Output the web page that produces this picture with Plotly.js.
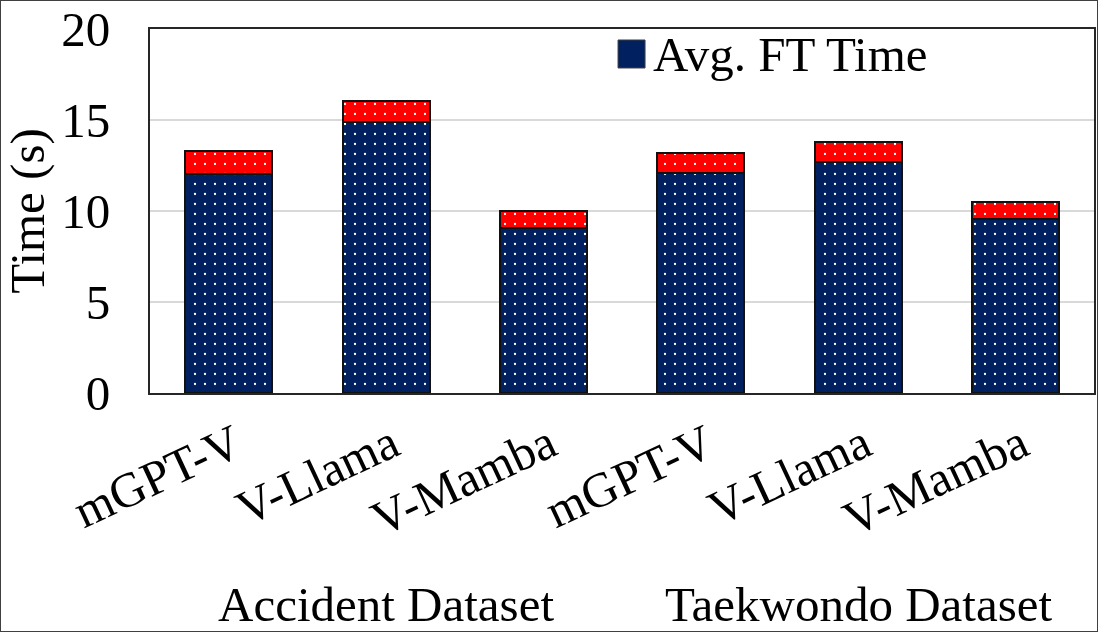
<!DOCTYPE html>
<html>
<head>
<meta charset="utf-8">
<script src="https://cdn.plot.ly/plotly-3.0.1.min.js"></script>
<style>
  html, body { margin: 0; padding: 0; background: #ffffff; }
  #chart { width: 1098px; height: 632px; }
  #frame { position: absolute; left: 0; top: 0; width: 1098px; height: 632px; box-sizing: border-box; border: 1px solid #404040; pointer-events: none; }
</style>
</head>
<body>
<div id="chart"></div>
<div id="frame"></div>
<script>
// ---- data ----
const models = ["mGPT-V", "V-Llama", "V-Mamba", "mGPT-V", "V-Llama", "V-Mamba"];
const positions = [0, 1, 2, 3, 4, 5];
const ftTime = [12.05, 14.9, 9.07, 12.07, 12.7, 9.55];      // Avg. FT Time (blue)
const extraTime = [1.26, 1.15, 0.93, 1.13, 1.07, 0.92];     // red top segment
const datasets = ["Accident Dataset", "Taekwondo Dataset"];
const datasetCenters = [1, 4];
const yTicks = [0, 5, 10, 15, 20];
const legendName = "Avg. FT Time";

const NAVY = "#002060";
const RED = "#ff0000";
const FONT = "'Liberation Serif'";
const FS = 49;

const traces = [
  {
    type: "bar", x: positions, y: ftTime, name: legendName, showlegend: false,
    marker: { color: NAVY, line: { color: "#111111", width: 2 },
      pattern: { shape: ".", fgcolor: "#ffffff", bgcolor: NAVY, size: 10, solidity: 0.04, fillmode: "replace" } },
    hoverinfo: "y"
  },
  {
    type: "bar", x: positions, y: extraTime, name: "", showlegend: false,
    marker: { color: RED, line: { color: "#111111", width: 2 },
      pattern: { shape: ".", fgcolor: "#ffffff", bgcolor: RED, size: 10, solidity: 0.04, fillmode: "replace" } },
    hoverinfo: "y"
  }
];

const annotations = datasets.map((d, i) => ({
  text: d, x: datasetCenters[i], xref: "x", y: -0.582, yref: "paper",
  xanchor: "center", yanchor: "middle", showarrow: false,
  font: { family: FONT, size: FS, color: "#000000" }
}));
annotations.push({
  text: legendName, x: 0.531, xref: "paper", y: 0.9286, yref: "paper",
  xanchor: "left", yanchor: "middle", showarrow: false,
  font: { family: FONT, size: FS, color: "#000000" }
});

const layout = {
  width: 1098, height: 632,
  margin: { l: 150, r: 4, t: 29, b: 239, pad: 0 },
  paper_bgcolor: "#ffffff", plot_bgcolor: "#ffffff",
  barmode: "stack", bargap: 0.447,
  showlegend: false,
  font: { family: FONT, size: FS, color: "#000000" },
  xaxis: {
    range: [-0.5, 5.5], tickvals: positions, ticktext: models,
    tickangle: -25, ticks: "", showgrid: false, zeroline: false,
    showline: true, linecolor: "#262626", linewidth: 2, mirror: true,
    ticklabelstandoff: 2, ticklabelshift: 6,
    tickfont: { family: FONT, size: FS, color: "#000000" }
  },
  yaxis: {
    range: [0, 20], tickvals: yTicks, ticks: "", zeroline: false,
    showgrid: true, gridcolor: "#d9d9d9", gridwidth: 1.5,
    showline: true, linecolor: "#262626", linewidth: 2, mirror: true,
    ticklabelstandoff: 28,
    tickfont: { family: FONT, size: FS, color: "#000000" },
    title: { text: "Time (s)", standoff: 5, font: { family: FONT, size: FS, color: "#000000" } }
  },
  shapes: [{
    type: "rect", xref: "paper", yref: "paper",
    x0: 0.4958, x1: 0.5244, y0: 0.8929, y1: 0.9698,
    fillcolor: NAVY, line: { color: "#404040", width: 1 }
  }],
  annotations: annotations
};

Plotly.newPlot("chart", traces, layout, { displayModeBar: false, staticPlot: true });
</script>
</body>
</html>
